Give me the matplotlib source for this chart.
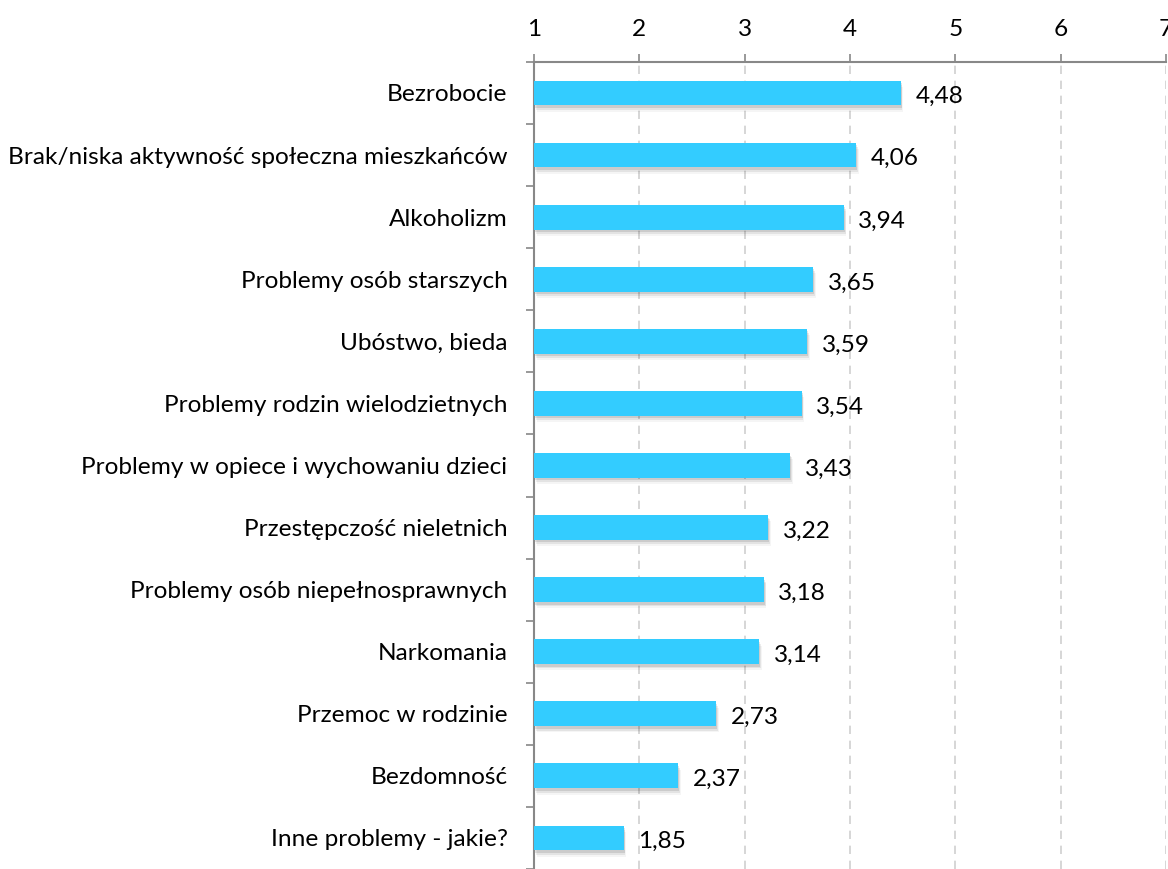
import matplotlib
matplotlib.use('Agg')
import numpy as np
import matplotlib.pyplot as plt

categories = [
    "Bezrobocie",
    "Brak/niska aktywność społeczna mieszkańców",
    "Alkoholizm",
    "Problemy osób starszych",
    "Ubóstwo, bieda",
    "Problemy rodzin wielodzietnych",
    "Problemy w opiece i wychowaniu dzieci",
    "Przestępczość nieletnich",
    "Problemy osób niepełnosprawnych",
    "Narkomania",
    "Przemoc w rodzinie",
    "Bezdomność",
    "Inne problemy - jakie?",
]
values = [4.48, 4.06, 3.94, 3.65, 3.59, 3.54, 3.43, 3.22, 3.18, 3.14, 2.73, 2.37, 1.85]
x_ticks = [1, 2, 3, 4, 5, 6, 7]

plt.rcParams['font.family'] = ['Lato', 'DejaVu Sans']
fs = 17.6

fig = plt.figure(figsize=(11.68, 8.69), dpi=100)
ax = fig.add_axes([0.4572, 0.0, 0.5411, 0.9287])

n = len(categories)
y = np.arange(n)
base = 1.0
widths = np.array(values) - base

# soft drop shadow under each bar
for dx, dy, a in [(0.010, 0.04, 0.10), (0.018, 0.07, 0.07), (0.026, 0.10, 0.04)]:
    ax.barh(y + dy, widths, left=base + dx, height=0.4,
            color='black', alpha=a, linewidth=0, zorder=2)
ax.barh(y, widths, left=base, height=0.4,
        color='#33CCFF', linewidth=0, zorder=3)

for yi, v in zip(y, values):
    ax.text(v + 0.14, yi + 0.06, f"{v:.2f}".replace('.', ','),
            va='center', ha='left', fontsize=fs, color='black')

ax.set_xlim(1, 7)
ax.set_ylim(n - 0.5, -0.5)
ax.set_xticks(x_ticks)
ax.set_xticklabels([str(t) for t in x_ticks])
ax.xaxis.tick_top()
ax.tick_params(axis='x', direction='out', length=6, width=1.2, color='#888888',
               labelsize=fs, pad=10)
ax.grid(axis='x', linestyle=(0, (5, 4)), color='#d0d0d0', linewidth=1.2, zorder=0)

ax.set_yticks(y)
ax.set_yticklabels(categories)
ax.set_yticks(np.arange(n + 1) - 0.5, minor=True)
ax.tick_params(axis='y', which='major', length=0, labelsize=fs, pad=19)
ax.tick_params(axis='y', which='minor', direction='out', length=6, width=1.2,
               color='#888888')

for side in ['right', 'bottom']:
    ax.spines[side].set_visible(False)
for side in ['top', 'left']:
    ax.spines[side].set_color('#888888')
    ax.spines[side].set_linewidth(1.5)

fig.savefig('out.png', dpi=100)
